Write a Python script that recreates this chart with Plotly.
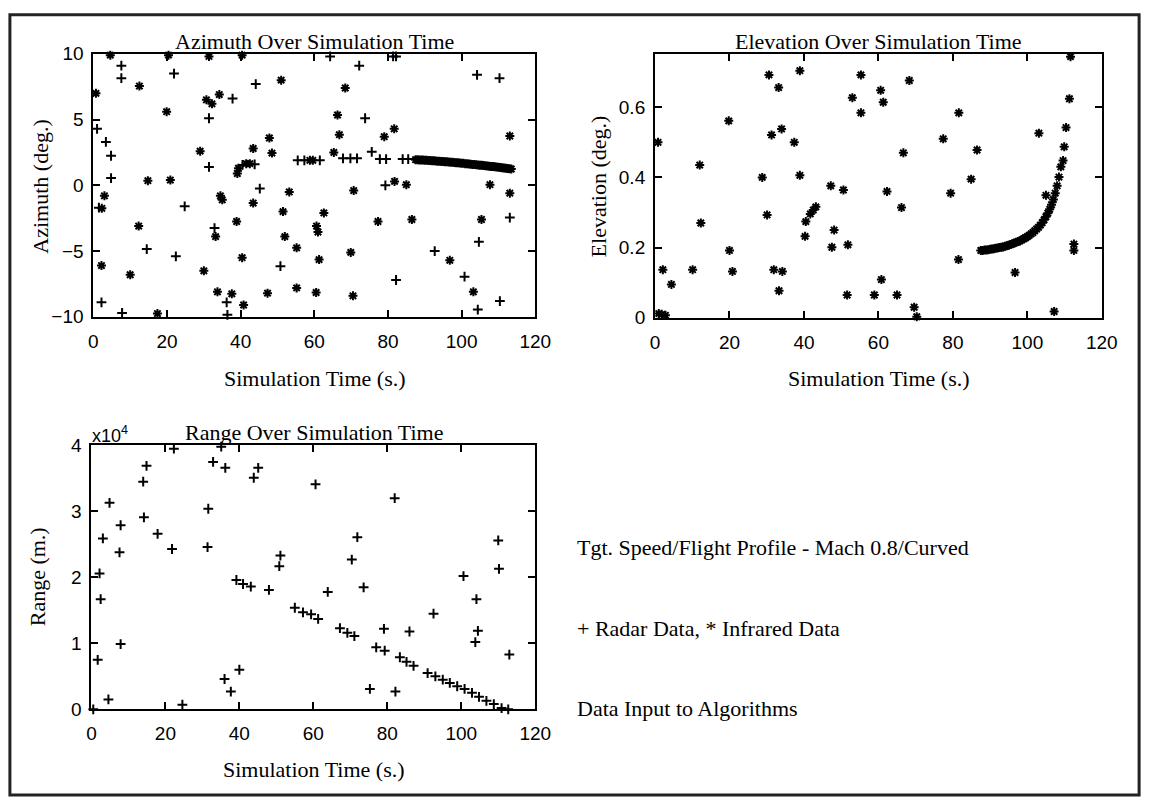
import plotly.graph_objects as go

W, H = 1161, 809

# ---------------- data ----------------
# Azimuth, radar (+)
az_radar_t = [1.0, 1.5, 2.2, 3.4, 4.8, 4.8, 7.6, 7.6, 7.8, 14.5, 21.9, 22.4, 24.8, 31.4, 31.4, 32.9,
              36.2, 36.4, 37.8, 40.5, 43.8, 44.1, 45.2, 50.8, 55.5, 57.3, 61.5, 64.3, 67.8, 69.8,
              71.6, 72.2, 73.8, 75.6, 77.8, 79.5, 79.3, 81.4, 82.2, 82.2, 84.0, 85.5, 92.7, 100.8,
              104.2, 104.4, 104.7, 110.3, 110.4, 113.1]
az_radar_v = [4.3, -1.7, -8.9, 3.3, 2.25, 0.55, 9.1, 8.15, -9.7, -4.85, 8.5, -5.4, -1.6, 5.1, 1.4, -3.25,
              -8.9, -9.85, 6.6, 1.55, 1.6, 7.7, -0.25, -6.15, 1.9, 1.9, 1.9, 9.8, 2.05, 2.05,
              2.05, 9.1, 5.1, 2.55, 2.0, 2.0, 0.0, 9.8, 9.8, -7.2, 2.0, 2.0, -5.0, -6.95,
              8.4, -9.45, -4.3, 8.15, -8.8, -2.45]

# Azimuth, infrared (*) scattered points
az_ir_t = [0.7, 2.3, 2.2, 3.0, 4.6, 10.0, 12.3, 12.5, 14.8, 17.4, 19.9, 20.4, 20.9, 29.0, 30.0, 30.7,
           31.4, 32.2, 33.2, 33.7, 34.2, 34.5, 35.0, 37.6, 38.9, 39.1, 39.4, 40.4, 40.4, 40.8, 41.5,
           42.5, 43.4, 43.4, 47.3, 47.8, 48.5, 51.0, 51.5, 52.0, 53.2, 55.2, 55.2, 58.8, 59.6, 60.5,
           60.6, 61.0, 61.3, 62.6, 65.3, 66.3, 66.8, 68.4, 69.9, 70.5, 70.7, 77.3, 79.0, 81.7, 81.8,
           85.0, 86.5, 96.8, 103.2, 105.4, 107.7, 113.1, 113.1]
az_ir_v = [7.0, -1.75, -6.1, -0.8, 9.9, -6.8, -3.1, 7.55, 0.35, -9.75, 5.6, 9.9, 0.4, 2.6, -6.5, 6.5,
           9.8, 6.2, -3.9, -8.1, 6.9, -0.8, -1.1, -8.25, -2.75, 0.9, 1.3, 9.9, -5.5, -9.1, 1.65,
           1.65, 2.8, -1.35, -8.2, 3.6, 2.45, 8.0, -2.0, -3.9, -0.5, -4.75, -7.8, 1.9, 1.9, -8.15,
           -3.1, -3.55, -5.65, -2.1, 2.5, 5.35, 3.85, 7.4, -5.1, -8.4, -0.4, -2.75, 3.7, 4.3, 0.3,
           0.05, -2.6, -5.7, -8.1, -2.6, 0.05, -0.6, 3.75]

# Azimuth, infrared dense track
az_trk_t = [87.5, 88, 88.5, 89, 89.5, 90, 90.5, 91, 91.5, 92, 92.5, 93, 93.5, 94, 94.5, 95, 95.5,
            96, 96.5, 97, 97.5, 98, 98.5, 99, 99.5, 100, 100.5, 101, 101.5, 102, 102.5, 103, 103.5,
            104, 104.5, 105, 105.5, 106, 106.5, 107, 107.5, 108, 108.5, 109, 109.5, 110, 110.5,
            111, 111.5, 112, 112.5, 113, 113.5]
az_trk_v = [1.95, 1.94, 1.93, 1.92, 1.92, 1.91, 1.90, 1.89, 1.88, 1.87, 1.86, 1.85, 1.84, 1.83, 1.82,
            1.81, 1.80, 1.79, 1.78, 1.76, 1.75, 1.74, 1.72, 1.71, 1.70, 1.68, 1.67, 1.65, 1.64, 1.62,
            1.61, 1.59, 1.58, 1.56, 1.55, 1.53, 1.52, 1.50, 1.49, 1.47, 1.46, 1.44, 1.43, 1.41, 1.40,
            1.38, 1.36, 1.34, 1.32, 1.30, 1.28, 1.26, 1.24]

# Elevation, infrared (*) scattered points
el_t = [0.8, 1.0, 1.8, 2.8, 2.1, 4.4, 10.1, 12.0, 12.3, 19.8, 20.0, 20.8, 28.8, 30.1, 30.6, 31.3,
        31.9, 33.2, 33.3, 34.0, 34.2, 37.4, 38.9, 38.9, 40.3, 40.5, 41.7, 42.5, 43.2, 47.2, 47.5,
        48.1, 50.6, 51.6, 51.8, 53.0, 55.3, 55.3, 58.9, 60.6, 60.8, 61.3, 62.3, 65.0, 66.2, 66.7,
        68.3, 69.6, 70.3, 77.4, 79.4, 81.6, 81.5, 84.9, 86.5, 96.7, 103.1, 105.0, 107.2, 109.6,
        109.9, 110.4, 111.3, 111.6, 112.5, 112.5]
el_v = [0.50, 0.012, 0.010, 0.007, 0.137, 0.095, 0.137, 0.435, 0.27, 0.561, 0.192, 0.132, 0.40, 0.293,
        0.692, 0.521, 0.137, 0.656, 0.077, 0.538, 0.132, 0.50, 0.704, 0.406, 0.232, 0.274, 0.296,
        0.307, 0.316, 0.376, 0.201, 0.25, 0.364, 0.065, 0.208, 0.627, 0.692, 0.584, 0.065, 0.648,
        0.109, 0.614, 0.36, 0.065, 0.314, 0.47, 0.676, 0.03, 0.003, 0.51, 0.355, 0.584, 0.166,
        0.395, 0.478, 0.129, 0.526, 0.349, 0.018, 0.448, 0.487, 0.542, 0.624, 0.744, 0.21, 0.192]

# Elevation, infrared dense track
el_trk_t = [87.5, 88, 88.5, 89, 89.5, 90, 90.5, 91, 91.5, 92, 92.5, 93, 93.5, 94, 94.5, 95, 95.5,
            96, 96.5, 97, 97.5, 98, 98.5, 99, 99.5, 100, 100.5, 101, 101.5, 102, 102.5, 103, 103.5,
            104, 104.5, 105, 105.5, 106, 106.5, 107, 107.5, 108, 108.5, 109]
el_trk_v = [0.192, 0.192, 0.193, 0.193, 0.194, 0.195, 0.196, 0.197, 0.198, 0.199, 0.200, 0.201,
            0.202, 0.204, 0.205, 0.207, 0.209, 0.211, 0.213, 0.215, 0.217, 0.219, 0.222, 0.225,
            0.228, 0.231, 0.235, 0.239, 0.243, 0.248, 0.253, 0.258, 0.264, 0.271, 0.279, 0.288,
            0.298, 0.309, 0.322, 0.337, 0.355, 0.376, 0.401, 0.430]

# Range, radar (+), metres
rg_t = [0.5, 1.7, 2.2, 2.5, 3.1, 4.6, 4.9, 7.6, 7.9, 7.9, 14.0, 14.2, 14.9, 17.9, 21.8, 22.3, 24.6,
        31.4, 31.6, 32.9, 35.1, 36.0, 36.2, 37.7, 39.2, 40.0, 41.0, 43.1, 43.9, 45.1, 48.0, 50.8,
        51.1, 55.0, 57.2, 59.4, 60.6, 61.3, 63.9, 67.2, 69.2, 70.4, 71.1, 71.9, 73.6, 75.3, 77.0,
        79.1, 79.3, 82.0, 82.2, 83.4, 85.2, 86.0, 87.1, 90.9, 92.5, 93.0, 95.0, 96.9, 98.9, 100.9,
        102.9, 104.8, 106.8, 108.8, 110.9, 112.7, 100.6, 103.8, 104.1, 104.5, 110.0, 110.2, 113.0]
rg_v = [0, 7500, 20600, 16700, 25900, 1500, 31300, 23800, 27900, 9900, 34500, 29100, 36900, 26600,
        24300, 39500, 700, 24600, 30400, 37500, 39800, 4600, 36600, 2700, 19600, 6000, 19000, 18600,
        35100, 36600, 18100, 21700, 23300, 15400, 14700, 14400, 34100, 13700, 17800, 12300, 11600,
        22700, 11100, 26100, 18500, 3100, 9400, 12200, 8900, 32000, 2700, 7900, 7200, 11800, 6600,
        5500, 14500, 5000, 4500, 4000, 3500, 3100, 2500, 1900, 1300, 800, 200, 0, 20200, 10200,
        16700, 11900, 25600, 21300, 8300]

x_ticks = [0, 20, 40, 60, 80, 100, 120]
az_ticks = [-10, -5, 0, 5, 10]
el_ticks = [0, 0.2, 0.4, 0.6]
el_ticktext = ["0", "0.2", "0.4", "0.6"]
rg_ticks = [0, 10000, 20000, 30000, 40000]
rg_ticktext = ["0", "1", "2", "3", "4"]

titles = ["Azimuth Over Simulation Time", "Elevation Over Simulation Time", "Range Over Simulation Time"]
ylabels = ["Azimuth (deg.)", "Elevation (deg.)", "Range (m.)"]
xlabel = "Simulation Time (s.)"
notes = ["Tgt. Speed/Flight Profile - Mach 0.8/Curved", "+ Radar Data, * Infrared Data",
         "Data Input to Algorithms"]

# ---------------- layout helpers (pixel -> paper) ----------------
def px(x):
    return x / W

def py(y):
    return 1 - y / H

SERIF = "Liberation Serif, Times New Roman, serif"
SANS = "Liberation Sans, Arial, sans-serif"

fig = go.Figure()

cross = dict(symbol="cross-thin-open", size=7, color="black", line=dict(color="black", width=2))
star = dict(symbol="asterisk-open", size=7.5, color="black", line=dict(color="black", width=2))

fig.add_trace(go.Scatter(x=az_radar_t, y=az_radar_v, mode="markers", marker=cross,
                         xaxis="x", yaxis="y", cliponaxis=False))
fig.add_trace(go.Scatter(x=az_ir_t, y=az_ir_v, mode="markers", marker=star,
                         xaxis="x", yaxis="y", cliponaxis=False))
fig.add_trace(go.Scatter(x=az_trk_t, y=az_trk_v, mode="markers", marker=star,
                         xaxis="x", yaxis="y", cliponaxis=False))
fig.add_trace(go.Scatter(x=el_t, y=el_v, mode="markers", marker=star,
                         xaxis="x2", yaxis="y2", cliponaxis=False))
fig.add_trace(go.Scatter(x=el_trk_t, y=el_trk_v, mode="markers", marker=star,
                         xaxis="x2", yaxis="y2", cliponaxis=False))
fig.add_trace(go.Scatter(x=rg_t, y=rg_v, mode="markers", marker=cross,
                         xaxis="x3", yaxis="y3", cliponaxis=False))

ax_common = dict(showgrid=False, zeroline=False, showline=True, linecolor="black", linewidth=2,
                 mirror="ticks", ticks="inside", ticklen=7, tickwidth=2, tickcolor="black",
                 tickfont=dict(family=SANS, size=19, color="black"), fixedrange=True)

fig.update_layout(
    width=W, height=H, margin=dict(l=0, r=0, t=0, b=0),
    paper_bgcolor="white", plot_bgcolor="white", showlegend=False,
    xaxis=dict(ax_common, domain=[px(90), px(540)], range=[0, 120], tickvals=x_ticks, anchor="y",
               ticklabelstandoff=6),
    yaxis=dict(ax_common, domain=[py(315), py(45)], range=[-10, 10], tickvals=az_ticks, anchor="x",
               ticklabelstandoff=4),
    xaxis2=dict(ax_common, domain=[px(662), px(1117)], range=[0, 120], tickvals=x_ticks, anchor="y2",
                ticklabelstandoff=6),
    yaxis2=dict(ax_common, domain=[py(316), py(45)], range=[0, 0.752], tickvals=el_ticks,
                ticktext=el_ticktext, anchor="x2", ticklabelstandoff=4),
    xaxis3=dict(ax_common, domain=[px(88), px(540)], range=[0, 120], tickvals=x_ticks, anchor="y3",
                ticklabelstandoff=6),
    yaxis3=dict(ax_common, domain=[py(718), py(447)], range=[0, 40000], tickvals=rg_ticks,
                ticktext=rg_ticktext, anchor="x3", ticklabelstandoff=4),
)

ann = []
def text(s, x, y, size=22, font=SERIF, xanchor="center", angle=0):
    ann.append(dict(text=s, x=px(x), y=py(y), xref="paper", yref="paper", showarrow=False,
                    xanchor=xanchor, yanchor="middle", textangle=angle,
                    font=dict(family=font, size=size, color="black")))

text(titles[0], 315, 32)
text(titles[1], 890, 32)
text(titles[2], 315, 434)
text(xlabel, 316, 378)
text(xlabel, 890, 378)
text(xlabel, 315, 780)
text(ylabels[0], 36, 181, angle=-90)
text(ylabels[1], 604, 181, angle=-90)
text(ylabels[2], 34, 582, angle=-90)
text("x10<sup>4</sup>", 87, 436, size=18, font=SANS, xanchor="left")
text(notes[0], 580, 552, xanchor="left")
text(notes[1], 580, 635, xanchor="left")
text(notes[2], 580, 717, xanchor="left")
fig.update_layout(annotations=ann)

fig.add_shape(type="rect", xref="paper", yref="paper", x0=px(5), x1=px(1155), y0=py(806), y1=py(5),
              line=dict(color="#222222", width=3), fillcolor="rgba(0,0,0,0)", layer="below")

fig.write_html("out.html")
